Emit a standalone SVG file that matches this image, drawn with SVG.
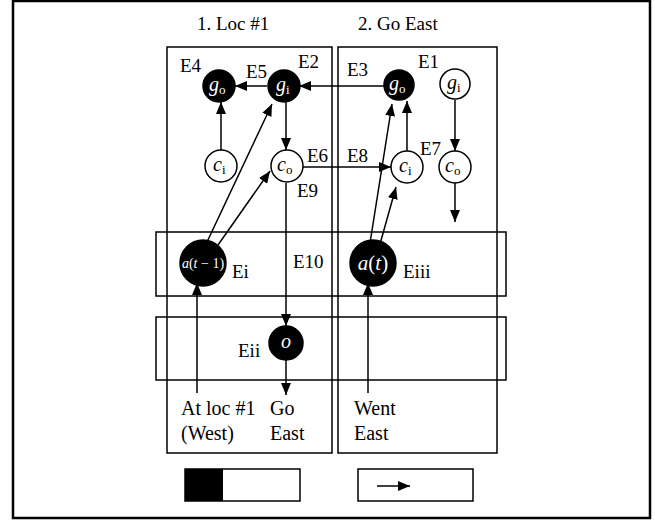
<svg xmlns="http://www.w3.org/2000/svg" width="655" height="520" viewBox="0 0 655 520">
<style>
text{fill:#000;font-family:'Liberation Serif',serif}
.lbl{font-size:19px}
.big{font-size:20px}
.nb{fill:#000;stroke:#000;stroke-width:1.5}
.nw{fill:#fff;stroke:#000;stroke-width:1.5}
.wt{fill:#fff}
.it{font-style:italic}
.sub{font-size:13px;font-style:normal}
.box{fill:none;stroke:#000;stroke-width:1.5}
.cn line{stroke:#000;stroke-width:1.5;marker-end:url(#ah)}
</style>
<defs>
<marker id="ah" markerUnits="userSpaceOnUse" markerWidth="12" markerHeight="10" refX="12" refY="5" orient="auto">
<path d="M0,0 L12,5 L0,10 z" fill="#000"/>
</marker>
</defs>
<rect x="13" y="1" width="637" height="517" fill="#fff" stroke="#000" stroke-width="2.5"/>
<text class="lbl" x="197" y="30">1. Loc #1</text>
<text class="lbl" x="358" y="30">2. Go East</text>
<g id="panels">
<rect class="box" x="167" y="47" width="165" height="406"/>
<rect class="box" x="338" y="47" width="159" height="406"/>
<rect class="box" x="156" y="232" width="350" height="64"/>
<rect class="box" x="156" y="317" width="350" height="63"/>
</g>
<g class="cn" id="connectors">
<line x1="384" y1="86" x2="299" y2="86"/>
<line x1="267" y1="86" x2="235" y2="86"/>
<line x1="221" y1="150" x2="221" y2="102"/>
<line x1="286" y1="102" x2="286" y2="150"/>
<line x1="303" y1="167" x2="391" y2="167"/>
<line x1="286" y1="183" x2="286" y2="326"/>
<line x1="286" y1="360" x2="286" y2="395"/>
<line x1="207" y1="242" x2="272" y2="104"/>
<line x1="218" y1="245" x2="270" y2="171"/>
<line x1="370" y1="243" x2="392" y2="104"/>
<line x1="380" y1="244" x2="396" y2="187"/>
<line x1="407" y1="151" x2="407" y2="101"/>
<line x1="455" y1="100" x2="455" y2="151"/>
<line x1="455" y1="183" x2="455" y2="222"/>
<line x1="197" y1="393" x2="197" y2="283"/>
<line x1="368" y1="393" x2="368" y2="283"/>
</g>
<g id="go-left"><circle class="nb" cx="219" cy="86" r="16"/><text class="wt it" x="209" y="91" font-size="20">g<tspan class="sub" dy="3">o</tspan></text></g>
<g id="gi-left"><circle class="nb" cx="284" cy="86" r="16"/><text class="wt it" x="276" y="91" font-size="20">g<tspan class="sub" dy="3">i</tspan></text></g>
<g id="ci-left"><circle class="nw" cx="221" cy="166" r="16"/><text class="it" x="213" y="171" font-size="20">c<tspan class="sub" dy="3">i</tspan></text></g>
<g id="co-left"><circle class="nw" cx="287" cy="166" r="16"/><text class="it" x="277" y="171" font-size="20">c<tspan class="sub" dy="3">o</tspan></text></g>
<g id="go-right"><circle class="nb" cx="399" cy="85" r="15"/><text class="wt it" x="389" y="90" font-size="20">g<tspan class="sub" dy="3">o</tspan></text></g>
<g id="gi-right"><circle class="nw" cx="455" cy="84" r="15"/><text class="it" x="447" y="89" font-size="20">g<tspan class="sub" dy="3">i</tspan></text></g>
<g id="ci-right"><circle class="nw" cx="407" cy="167" r="16"/><text class="it" x="399" y="172" font-size="20">c<tspan class="sub" dy="3">i</tspan></text></g>
<g id="co-right"><circle class="nw" cx="455" cy="167" r="16"/><text class="it" x="445" y="172" font-size="20">c<tspan class="sub" dy="3">o</tspan></text></g>
<g id="a-prev"><circle class="nb" cx="203" cy="263" r="23"/><text class="wt" x="203" y="268" font-size="14" text-anchor="middle"><tspan class="it">a</tspan>(<tspan class="it">t</tspan> − 1)</text></g>
<g id="a-now"><circle class="nb" cx="373" cy="263" r="23"/><text class="wt" x="373" y="270" font-size="21" text-anchor="middle"><tspan class="it">a</tspan>(<tspan class="it">t</tspan>)</text></g>
<g id="o-node"><circle class="nb" cx="286" cy="343" r="17"/><text class="wt it" x="286" y="348" font-size="20" text-anchor="middle">o</text></g>
<g id="edge-labels" class="lbl">
<text x="180" y="72">E4</text>
<text x="246" y="78">E5</text>
<text x="298" y="68">E2</text>
<text x="307" y="162">E6</text>
<text x="297" y="197">E9</text>
<text x="347" y="76">E3</text>
<text x="418" y="68">E1</text>
<text x="347" y="162">E8</text>
<text x="420" y="155">E7</text>
<text x="293" y="268">E10</text>
<text x="232" y="278">Ei</text>
<text x="403" y="278">Eiii</text>
<text x="238" y="357">Eii</text>
</g>
<g id="captions" class="big">
<text x="181" y="415">At loc #1</text>
<text x="181" y="440">(West)</text>
<text x="270" y="415">Go</text>
<text x="270" y="440">East</text>
<text x="354" y="415">Went</text>
<text x="354" y="440">East</text>
</g>
<g id="progress">
<rect x="185" y="469" width="115" height="32" fill="#fff" stroke="#000" stroke-width="1.5"/>
<rect x="185" y="469" width="38" height="32" fill="#000"/>
</g>
<g id="action">
<rect x="358" y="469" width="115" height="32" fill="#fff" stroke="#000" stroke-width="1.5"/>
<line x1="377" y1="486" x2="410" y2="486" stroke="#000" stroke-width="1.5" marker-end="url(#ah)"/>
</g>
</svg>
